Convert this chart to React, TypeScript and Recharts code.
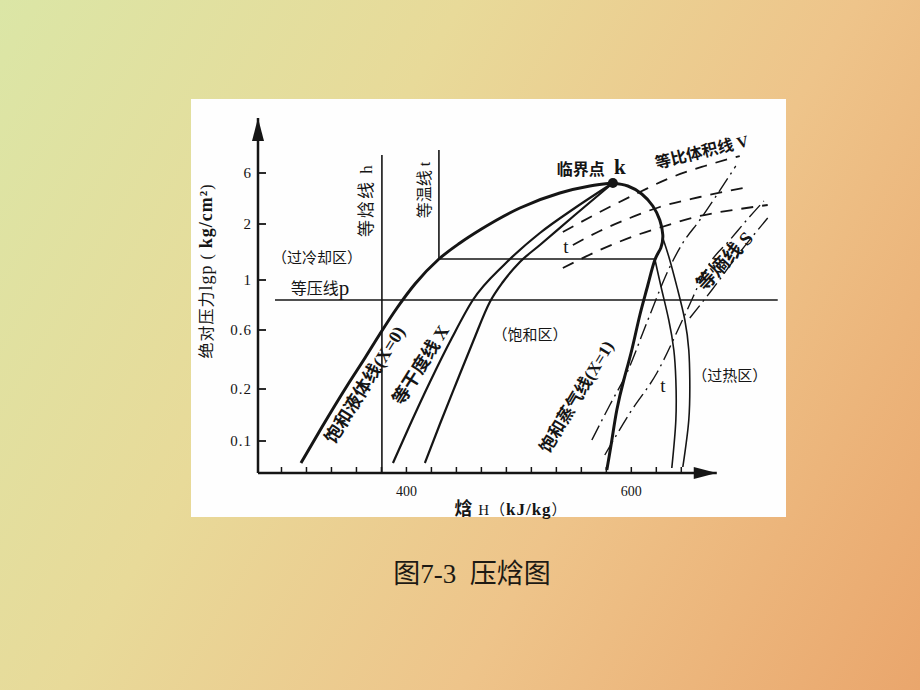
import React from "react";
import { LineChart, Line, XAxis, YAxis, ReferenceLine, ReferenceDot } from "recharts";

// enthalpy axis (kJ/kg) – schematic, 9 minor steps between 400 and 600
const H_MIN = 268;
const H_MAX = 734;
const H_AXIS_END = 676;
const H_TICK_STEP = 200 / 9;
const H_TICKS = Array.from({ length: 17 }, (_, i) => 400 + (i - 5) * H_TICK_STEP);
const H_LABELS = [400, 600];

// pressure axis – schematic levels, labelled in kg/cm²
const P_MAX = 355;
const P_TICKS = [32, 84, 143, 193, 249, 300];
const P_LABELS = ["0.1", "0.2", "0.6", "1", "2", "6"];

// saturation dome
const SAT_LIQUID = [
  { h: 306.2, lp: 10 }, { h: 324.9, lp: 46 }, { h: 347.1, lp: 87 }, { h: 363.1, lp: 115 },
  { h: 376.4, lp: 139 }, { h: 391.6, lp: 165 }, { h: 407.6, lp: 189 }, { h: 428.9, lp: 214 },
  { h: 447.6, lp: 230 }, { h: 465.3, lp: 243 }, { h: 500.9, lp: 265 }, { h: 536.4, lp: 280 },
  { h: 563.1, lp: 287 }, { h: 583.6, lp: 290 },
];
const SAT_VAPOR = [
  { h: 583.6, lp: 290 }, { h: 596.9, lp: 287 }, { h: 609.3, lp: 279 }, { h: 619.1, lp: 267 },
  { h: 625.3, lp: 253 }, { h: 628.0, lp: 238 }, { h: 626.2, lp: 225 }, { h: 620.9, lp: 213 },
  { h: 614.7, lp: 188 }, { h: 607.6, lp: 158 }, { h: 600.4, lp: 123 }, { h: 593.3, lp: 93 },
  { h: 587.1, lp: 63 }, { h: 582.7, lp: 33 }, { h: 578.2, lp: 3 },
];
const CRITICAL = { h: 583.6, lp: 290 };

// constant quality lines X
const QUALITY_A = [
  { h: 388.0, lp: 10 }, { h: 403.1, lp: 48 }, { h: 420.9, lp: 91 }, { h: 440.4, lp: 135 },
  { h: 459.1, lp: 173 }, { h: 487.6, lp: 209 }, { h: 518.7, lp: 240 }, { h: 549.8, lp: 265 },
  { h: 583.6, lp: 290 },
];
const QUALITY_B = [
  { h: 416.4, lp: 10 }, { h: 429.8, lp: 49 }, { h: 444.0, lp: 89 }, { h: 459.1, lp: 131 },
  { h: 474.2, lp: 171 }, { h: 485.8, lp: 191 }, { h: 500.9, lp: 211 }, { h: 518.7, lp: 228 },
  { h: 549.8, lp: 258 }, { h: 583.6, lp: 290 },
];

// isenthalp h, isobar p, isotherm t
const ISO_H = [{ h: 378.2, lp: 318 }, { h: 378.2, lp: 0 }];
const ISO_P = [{ h: 283.1, lp: 173 }, { h: 730.2, lp: 173 }];
const ISO_T_SUB = [{ h: 428.9, lp: 323 }, { h: 428.9, lp: 214 }, { h: 620.9, lp: 214 }];
const ISO_T_SUP_1 = [
  { h: 620.9, lp: 214 }, { h: 627.1, lp: 183 }, { h: 633.3, lp: 153 }, { h: 637.8, lp: 123 },
  { h: 639.6, lp: 93 }, { h: 639.6, lp: 53 }, { h: 636.0, lp: 5 },
];
const ISO_T_SUP_2 = [
  { h: 628.0, lp: 235 }, { h: 634.2, lp: 213 }, { h: 641.3, lp: 183 }, { h: 647.6, lp: 153 },
  { h: 651.1, lp: 123 }, { h: 652.0, lp: 93 }, { h: 651.1, lp: 53 }, { h: 645.8, lp: 6 },
];

// constant specific volume lines V (dashed)
const ISO_V_1 = [
  { h: 539.1, lp: 241 }, { h: 572.0, lp: 261 }, { h: 607.6, lp: 281 }, { h: 634.2, lp: 295 },
  { h: 665.3, lp: 307 }, { h: 696.4, lp: 317 },
];
const ISO_V_2 = [
  { h: 548.0, lp: 228 }, { h: 572.0, lp: 242 }, { h: 598.7, lp: 255 }, { h: 625.3, lp: 266 },
  { h: 660.9, lp: 276 }, { h: 703.6, lp: 286 },
];
const ISO_V_3 = [
  { h: 539.1, lp: 205 }, { h: 572.0, lp: 223 }, { h: 607.6, lp: 239 }, { h: 627.1, lp: 246 },
  { h: 660.9, lp: 257 }, { h: 696.4, lp: 264 }, { h: 721.3, lp: 268 },
];

// isentropes S (dash-dot)
const ISO_S_1 = [
  { h: 564.9, lp: 33 }, { h: 580.9, lp: 68 }, { h: 596.0, lp: 100 }, { h: 614.7, lp: 153 },
  { h: 634.2, lp: 206 }, { h: 645.8, lp: 230 }, { h: 660.9, lp: 253 }, { h: 676.0, lp: 278 },
  { h: 692.9, lp: 307 },
];
const ISO_S_2 = [
  { h: 576.4, lp: 18 }, { h: 598.7, lp: 60 }, { h: 622.7, lp: 100 }, { h: 647.6, lp: 158 },
  { h: 669.8, lp: 210 }, { h: 687.6, lp: 233 }, { h: 702.7, lp: 253 }, { h: 717.8, lp: 272 },
];
const ISO_S_3 = [
  { h: 652.0, lp: 155 }, { h: 671.6, lp: 183 }, { h: 694.7, lp: 218 }, { h: 721.3, lp: 255 },
];

const INK = "#151515";
const SERIF = "'Liberation Serif', 'Noto Sans CJK SC', serif";

// annotations placed in chart coordinates
const NOTES = [
  { h: 555.1, lp: 304, text: "临界点", size: 16, angle: 0, bold: true },
  { h: 589.8, lp: 306, text: "k", size: 21, angle: 0, bold: true },
  { h: 662.7, lp: 321, text: "等比体积线 V", size: 16, angle: -14, bold: true },
  { h: 364.9, lp: 273, text: "等焓线 h", size: 17, angle: -90, bold: false, spacing: 2 },
  { h: 416.4, lp: 283, text: "等温线 t", size: 16, angle: -90, bold: false },
  { h: 320.4, lp: 215, text: "（过冷却区）", size: 15, angle: 0, bold: false },
  { h: 323.1, lp: 185, text: "等压线", tail: "p", size: 16, angle: 0, bold: false },
  { h: 509.8, lp: 138, text: "（饱和区）", size: 15, angle: 0, bold: false },
  { h: 687.6, lp: 97, text: "（过热区）", size: 15, angle: 0, bold: false },
  { h: 363.1, lp: 88, text: "饱和液体线(X=0)", size: 18, angle: -58, bold: true },
  { h: 412.9, lp: 108, text: "等干度线 X", size: 18, angle: -58, bold: true },
  { h: 551.6, lp: 76, text: "饱和蒸气线(X=1)", size: 17, angle: -59, bold: true },
  { h: 683.1, lp: 212, text: "等熵线 S", size: 19, angle: -47, bold: true },
  { h: 541.8, lp: 227, text: "t", size: 19, angle: 0, bold: false },
  { h: 628.0, lp: 88, text: "t", size: 19, angle: 0, bold: false },
];

function XTick(props: any) {
  const { x, y, payload } = props;
  const lab = H_LABELS.find((l) => Math.abs(l - payload.value) < 0.01);
  return (
    <g>
      <line x1={x} x2={x} y1={y} y2={y - 6} stroke={INK} strokeWidth={1.5} />
      {lab !== undefined && (
        <text x={x} y={y + 23} textAnchor="middle" fontSize={14} fontFamily={SERIF} fill={INK}>
          {lab}
        </text>
      )}
    </g>
  );
}

function YTick(props: any) {
  const { x, y, payload } = props;
  const i = P_TICKS.indexOf(payload.value);
  return (
    <g>
      <line x1={x} x2={x + 8} y1={y} y2={y} stroke={INK} strokeWidth={1.8} />
      <text x={x - 6} y={y} dy="0.35em" textAnchor="end" fontSize={15} letterSpacing={1} fontFamily={SERIF} fill={INK}>
        {P_LABELS[i]}
      </text>
    </g>
  );
}

const curve = (data: any[], width: number, type: any, dash?: string) => ({
  data, strokeWidth: width, type, strokeDasharray: dash,
});

export default function App() {
  const series = [
    curve(ISO_H, 1.6, "linear"),
    curve(ISO_P, 1.6, "linear"),
    curve(ISO_T_SUB, 1.6, "linear"),
    curve(ISO_T_SUP_1, 1.6, "natural"),
    curve(ISO_T_SUP_2, 1.6, "natural"),
    curve(ISO_V_1, 1.8, "monotone", "12 9"),
    curve(ISO_V_2, 1.8, "monotone", "12 9"),
    curve(ISO_V_3, 1.8, "monotone", "12 9"),
    curve(ISO_S_1, 1.4, "monotone", "16 5 2 5"),
    curve(ISO_S_2, 1.4, "monotone", "16 5 2 5"),
    curve(ISO_S_3, 1.4, "monotone", "16 5 2 5"),
    curve(QUALITY_A, 2.2, "monotone"),
    curve(QUALITY_B, 2.2, "monotone"),
    curve(SAT_LIQUID, 3, "monotone"),
    curve(SAT_VAPOR, 3, "natural"),
  ];

  return (
    <div
      style={{
        position: "fixed", left: 0, top: 0, width: 920, height: 690, overflow: "hidden",
        background: "linear-gradient(120deg, #dbe6a6 0%, #e8da99 35%, #eec48a 65%, #eaa66c 100%)",
        fontFamily: SERIF, color: INK,
      }}
    >
      <div style={{ position: "absolute", left: 191, top: 99, width: 595, height: 418, background: "#fefefe" }}>
        <LineChart width={595} height={418} margin={{ top: 19, right: 4, bottom: 14, left: 7 }}>
          <XAxis
            type="number" dataKey="h" domain={[H_MIN, H_MAX]} ticks={H_TICKS} interval={0}
            axisLine={false} tickLine={false} tickSize={0} tickMargin={0} height={30} tick={<XTick />}
          />
          <YAxis
            type="number" dataKey="lp" domain={[0, P_MAX]} ticks={P_TICKS} interval={0} width={60}
            axisLine={{ stroke: INK, strokeWidth: 2.5 }} tickLine={false} tickSize={0} tickMargin={0} tick={<YTick />}
          />
          <ReferenceLine
            segment={[{ x: H_MIN, y: 0 }, { x: H_AXIS_END, y: 0 }]}
            stroke={INK} strokeWidth={2.5}
          />
          <ReferenceDot
            x={H_AXIS_END} y={0} r={0}
            shape={(p: any) => (
              <polygon points={`${p.cx},${p.cy} ${p.cx - 23},${p.cy - 6} ${p.cx - 23},${p.cy + 6}`} fill={INK} />
            )}
          />
          <ReferenceDot
            x={H_MIN} y={P_MAX} r={0}
            shape={(p: any) => (
              <polygon points={`${p.cx},${p.cy} ${p.cx - 6},${p.cy + 23} ${p.cx + 6},${p.cy + 23}`} fill={INK} />
            )}
          />
          {series.map((s, i) => (
            <Line
              key={i} data={s.data} dataKey="lp" type={s.type} stroke={INK} strokeWidth={s.strokeWidth}
              strokeDasharray={s.strokeDasharray} dot={false} activeDot={false} isAnimationActive={false}
            />
          ))}
          <ReferenceDot x={CRITICAL.h} y={CRITICAL.lp} r={5} fill={INK} stroke="none" />
          {NOTES.map((n, i) => (
            <ReferenceDot
              key={`n${i}`} x={n.h} y={n.lp} r={0}
              shape={(p: any) => (
                <text
                  x={p.cx} y={p.cy} textAnchor="middle" dominantBaseline="central"
                  transform={n.angle ? `rotate(${n.angle} ${p.cx} ${p.cy})` : undefined}
                  fontSize={n.size} fontWeight={n.bold ? 700 : 400} fontFamily={SERIF} fill={INK}
                  letterSpacing={n.spacing || 0}
                >
                  {n.text}
                  {n.tail && <tspan fontSize={21}>{n.tail}</tspan>}
                </text>
              )}
            />
          ))}
        </LineChart>
      </div>

      {/* axis titles */}
      <div
        style={{
          position: "absolute", left: 205, top: 271, transform: "translate(-50%, -50%) rotate(-90deg)",
          whiteSpace: "nowrap", fontSize: 16, letterSpacing: 1,
        }}
      >
        绝对压力<span style={{ fontSize: 18 }}>lgp</span> ( <b style={{ fontSize: 18 }}>kg/cm²</b>)
      </div>
      <div
        style={{
          position: "absolute", left: 511, top: 507, transform: "translate(-50%, -50%)",
          whiteSpace: "nowrap", fontSize: 15, letterSpacing: 1,
        }}
      >
        <b style={{ fontSize: 18 }}>焓</b> H（<b style={{ fontSize: 17 }}>kJ/kg</b>）
      </div>

      {/* caption */}
      <div
        style={{
          position: "absolute", left: 472, top: 571, transform: "translate(-50%, -50%)",
          whiteSpace: "nowrap", fontSize: 27, color: "#1d1a14",
        }}
      >
        图7-3&nbsp;&nbsp;压焓图
      </div>
    </div>
  );
}
